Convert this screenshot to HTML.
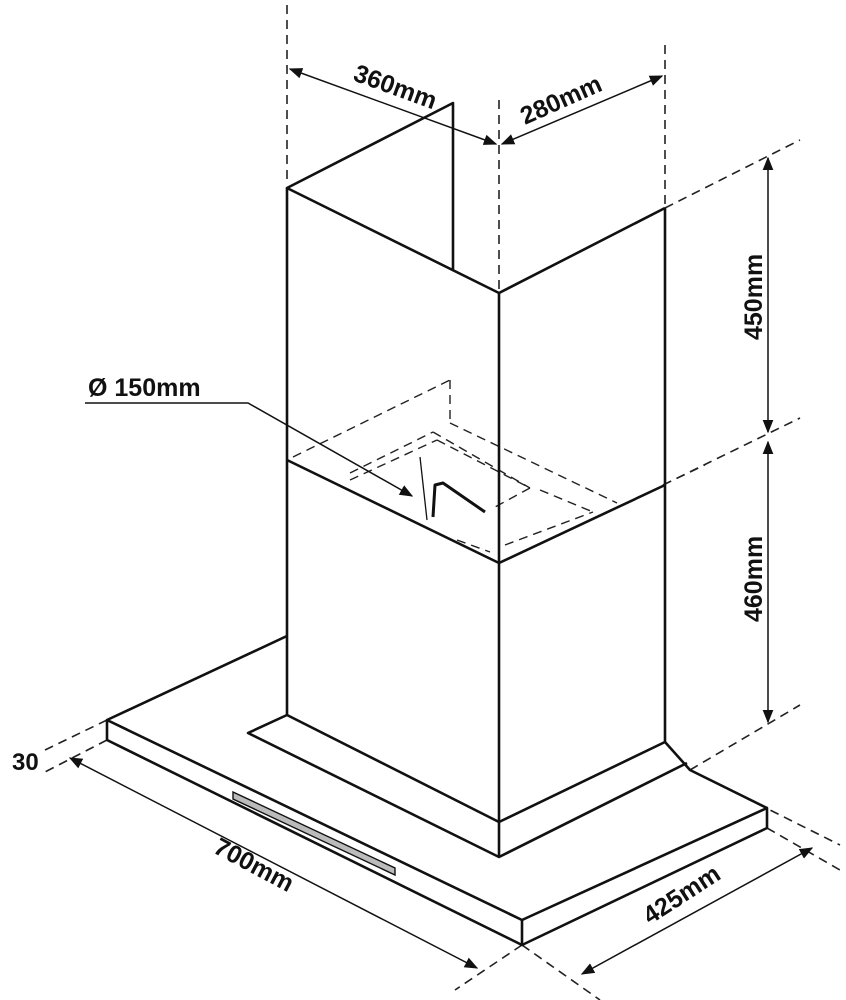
<!DOCTYPE html>
<html><head><style>body{margin:0;background:#fff}svg{display:block}
text{font-family:"Liberation Sans",sans-serif;font-weight:bold;fill:#111}</style></head>
<body>
<svg width="846" height="1000" viewBox="0 0 846 1000" xmlns="http://www.w3.org/2000/svg">
<defs><marker id="a" viewBox="0 0 10 10" refX="9" refY="5" markerWidth="9" markerHeight="9" orient="auto-start-reverse"><path d="M0,1L10,5L0,9z" fill="#111"/></marker></defs>
<g stroke="#222" stroke-width="1.6" fill="none" stroke-dasharray="9,6">
<line x1="287" y1="5" x2="287" y2="185"/>
<line x1="499" y1="100" x2="499" y2="290"/>
<line x1="665" y1="45" x2="665" y2="205"/>
<line x1="665" y1="208" x2="800" y2="140"/>
<line x1="663" y1="485" x2="800" y2="418"/>
<line x1="690" y1="770" x2="800" y2="705"/>
<line x1="107" y1="720" x2="45" y2="750"/>
<line x1="107" y1="740" x2="45" y2="772"/>
<line x1="522" y1="945" x2="455" y2="990"/>
<line x1="522" y1="945" x2="600" y2="1000"/>
<line x1="767" y1="828" x2="840" y2="870"/>
<line x1="690" y1="770" x2="840" y2="845"/>
<g stroke-width="1.4">
<line x1="293" y1="457" x2="450" y2="380"/>
<line x1="450" y1="380" x2="450" y2="423"/>
<line x1="450" y1="423" x2="617" y2="503"/>
<line x1="350" y1="473" x2="433" y2="432"/>
<line x1="433" y1="432" x2="530" y2="488"/>
<line x1="350" y1="480" x2="437" y2="440"/>
<line x1="437" y1="440" x2="530" y2="488"/>
<line x1="530" y1="488" x2="495" y2="507"/>
<line x1="540" y1="490" x2="593" y2="512"/>
<line x1="457" y1="540" x2="490" y2="552"/>
<line x1="505" y1="545" x2="593" y2="512"/>
<line x1="663" y1="485" x2="705" y2="465"/>
</g></g>
<g stroke="#111" stroke-width="2.6" fill="none" stroke-linejoin="round">
<line x1="287" y1="188" x2="287" y2="715"/>
<line x1="499" y1="293" x2="499" y2="857"/>
<line x1="665" y1="208" x2="665" y2="742"/>
<polyline points="453,270 453,103 287,188 499,293 665,208"/>
<polyline points="287,460 499,563 665,485"/>
<polyline points="287,636 107,720 522,920 767,808 767,828 522,945 107,740 107,720"/>
<line x1="522" y1="920" x2="522" y2="945"/>
<polyline points="665,742 690,770 767,808"/>
<polyline points="287,715 248,733 499,857 687,763"/>
<polyline points="287,715 499,822 665,742"/>
<polyline points="433,517 435,485 443,483 485,512" stroke-width="3"/>
</g>
<line x1="420" y1="457" x2="427" y2="520" stroke="#111" stroke-width="1.3"/>
<polygon points="233,792 395,868 395,875 233,799" fill="#bbb" stroke="#111" stroke-width="1.4"/>
<g stroke="#111" stroke-width="1.5" fill="none">
<line x1="290" y1="69" x2="496" y2="144" marker-start="url(#a)" marker-end="url(#a)"/>
<line x1="502" y1="144" x2="662" y2="76" marker-start="url(#a)" marker-end="url(#a)"/>
<line x1="768" y1="158" x2="768" y2="432" marker-start="url(#a)" marker-end="url(#a)"/>
<line x1="768" y1="442" x2="768" y2="722" marker-start="url(#a)" marker-end="url(#a)"/>
<line x1="70" y1="758" x2="477" y2="968" marker-start="url(#a)" marker-end="url(#a)"/>
<line x1="582" y1="974" x2="812" y2="848" marker-start="url(#a)" marker-end="url(#a)"/>
<polyline points="85,403 248,403 412,496" marker-end="url(#a)"/>
</g>
<text x="0" y="0" font-size="25" transform="translate(352,80) rotate(20)">360mm</text>
<text x="0" y="0" font-size="25" transform="translate(525,125) rotate(-24)">280mm</text>
<text x="0" y="0" font-size="25" transform="translate(762,340) rotate(-90)">450mm</text>
<text x="0" y="0" font-size="25" transform="translate(762,622) rotate(-90)">460mm</text>
<text x="88" y="396" font-size="25">Ø 150mm</text>
<text x="12" y="770" font-size="24">30</text>
<text x="0" y="0" font-size="25" transform="translate(212,852) rotate(28)">700mm</text>
<text x="0" y="0" font-size="25" transform="translate(650,925) rotate(-33)">425mm</text>
</svg>
</body></html>
